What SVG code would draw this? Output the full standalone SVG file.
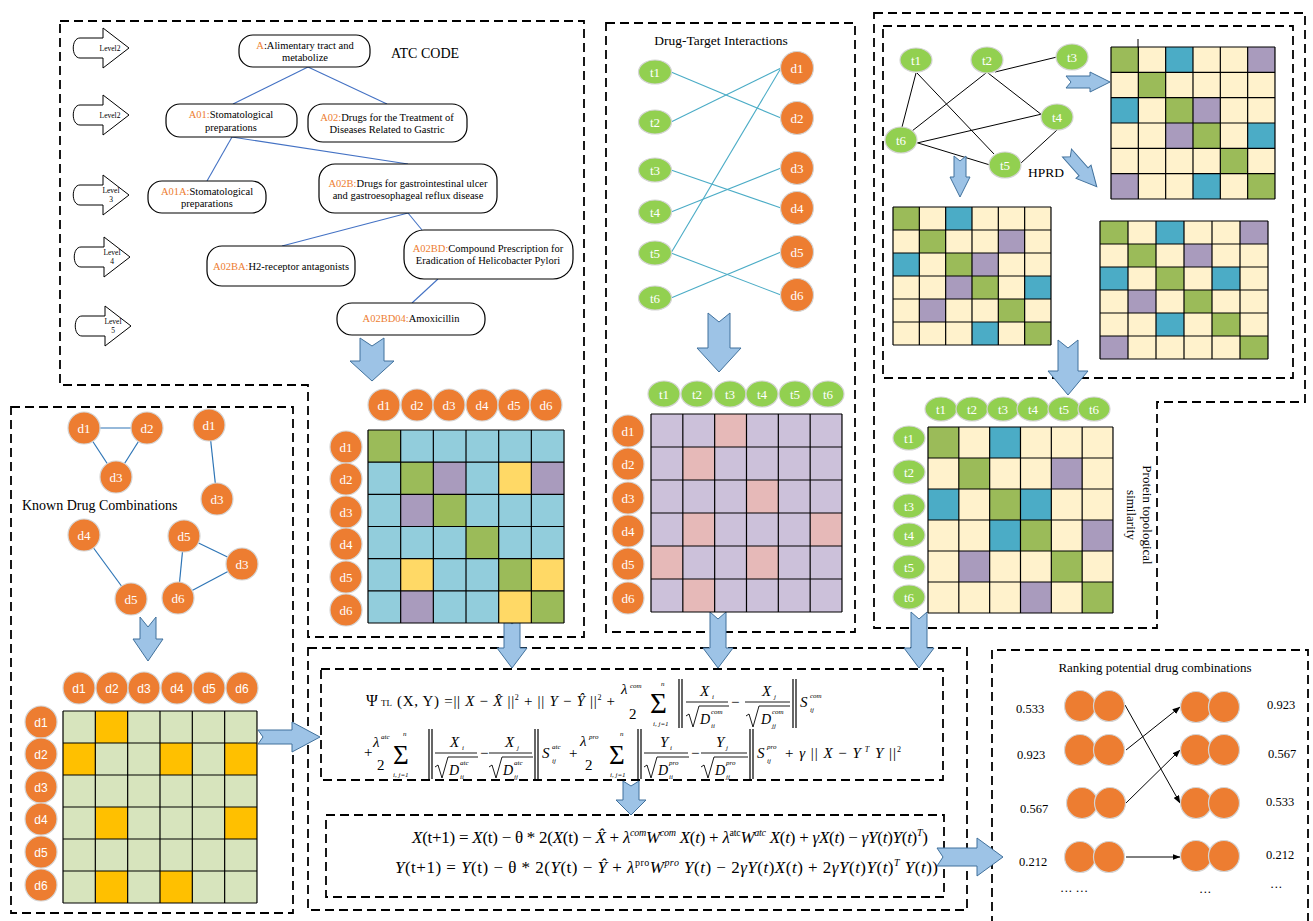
<svg xmlns="http://www.w3.org/2000/svg" xmlns:xlink="http://www.w3.org/1999/xlink" width="1313" height="921" viewBox="0 0 1313 921">
<style>
  .dash{fill:none;stroke:#000;stroke-width:1.8;stroke-dasharray:9 5}
  .oc{fill:#ED7D31;stroke:#D4D4D4;stroke-width:1.2}
  .gc{fill:#92D050;stroke:#D4D4D4;stroke-width:1.2}
  .lbl{font-family:"Liberation Serif",serif;font-size:13px;fill:#fff;text-anchor:middle}
  .lbls{font-family:"Liberation Sans",sans-serif;font-size:12px;fill:#fff;text-anchor:middle}
  .blk{fill:#9DC3E6;stroke:#41719C;stroke-width:1}
  .abox{fill:#fff;stroke:#000;stroke-width:1.2}
  .at{font-family:"Liberation Serif",serif;font-size:10.5px;fill:#000;text-anchor:middle}
  .or{fill:#ED7D31}
  .ttl{font-family:"Liberation Serif",serif;fill:#000}
  .lv{font-family:"Liberation Serif",serif;font-size:7.5px;fill:#000;text-anchor:middle}
  .grid{fill:none;stroke:#000;stroke-width:1.2;vector-effect:non-scaling-stroke}
  .m{font-family:"Liberation Serif",serif;fill:#000}
  .i{font-style:italic}
  .s{font-size:7px;font-style:italic}
  .bar{stroke:#000;stroke-width:0.9;fill:none}
  .nb{stroke:#000;stroke-width:1.2}
  .atl{stroke:#4472C4;stroke-width:1.1}
  .dtl{stroke:#4BACC6;stroke-width:1.1}
  .dcl{stroke:#2E75B6;stroke-width:1.2}
  .hpl{stroke:#000;stroke-width:1}
  .rk{stroke:#000;stroke-width:1;marker-end:url(#ah)}
  .val{font-family:"Liberation Serif",serif;font-size:12.5px;fill:#000}
  .cC{fill:#92CDDC}.cG{fill:#9BBB59}.cP{fill:#A99BBD}.cY{fill:#FFD966}
  .cL{fill:#CCC1DA}.cK{fill:#E6B9B8}.cW{fill:#FFF2CC}.cB{fill:#4BACC6}
  .cLG{fill:#D7E4BD}.cO{fill:#FFC000}
</style>
<defs>
  <path id="grid6" class="grid" d="M0,0H6M0,1H6M0,2H6M0,3H6M0,4H6M0,5H6M0,6H6M0,0V6M1,0V6M2,0V6M3,0V6M4,0V6M5,0V6M6,0V6"/>
  <path id="lvl" d="M103,-10H80C71,-10 71,10 80,10H103V20L129,0L103,-20Z" fill="#fff" stroke="#000" stroke-width="1"/>
  <marker id="ah" markerWidth="8" markerHeight="6" refX="7.5" refY="3" orient="auto" markerUnits="userSpaceOnUse">
    <path d="M0,0L8,3L0,6Z" fill="#000"/>
  </marker>
</defs>
<rect width="1313" height="921" fill="#fff"/>

<!-- dashed section frames -->
<g id="frames">
  <path class="dash" d="M60,21H584V637H308V385H60Z"/>
  <rect class="dash" x="606" y="23" width="249" height="609"/>
  <path class="dash" d="M874,13H1305V402H1157V628H874Z"/>
  <rect class="dash" x="883" y="26" width="410" height="352"/>
  <rect class="dash" x="11" y="407" width="282" height="506"/>
  <rect class="dash" x="308" y="648" width="659" height="262"/>
  <rect class="dash" x="321" y="669" width="622" height="111"/>
  <rect class="dash" x="326" y="815" width="618" height="82"/>
  <path class="dash" d="M992,925V650H1308V925"/>
</g>

<!-- level markers -->
<g id="levels">
  <use xlink:href="#lvl" transform="translate(0,48)"/>
  <text class="lv" x="110" y="51">Level2</text>
  <use xlink:href="#lvl" transform="translate(0,115)"/>
  <text class="lv" x="110" y="118">Level2</text>
  <use xlink:href="#lvl" transform="translate(0,195)"/>
  <text class="lv" x="111" y="193">Level</text><text class="lv" x="111" y="202">3</text>
  <use xlink:href="#lvl" transform="translate(1,257)"/>
  <text class="lv" x="112" y="255">Level</text><text class="lv" x="112" y="264">4</text>
  <use xlink:href="#lvl" transform="translate(2,326)"/>
  <text class="lv" x="113" y="324">Level</text><text class="lv" x="113" y="333">5</text>
</g>

<!-- connectors -->
<g id="connectors">
  <g id="atc-links">
    <line class="atl" x1="308" y1="67" x2="233" y2="104"/>
    <line class="atl" x1="308" y1="67" x2="387" y2="104"/>
    <line class="atl" x1="232" y1="137" x2="207" y2="181"/>
    <line class="atl" x1="232" y1="137" x2="408" y2="164"/>
    <line class="atl" x1="408" y1="213" x2="282" y2="246"/>
    <line class="atl" x1="408" y1="213" x2="422" y2="230"/>
    <line class="atl" x1="438" y1="279" x2="412" y2="303"/>
  </g>
  <g id="dt-links">
    <line class="dtl" x1="671" y1="72" x2="781" y2="118"/>
    <line class="dtl" x1="671" y1="122" x2="781" y2="68"/>
    <line class="dtl" x1="671" y1="253" x2="781" y2="68"/>
    <line class="dtl" x1="671" y1="170" x2="781" y2="208"/>
    <line class="dtl" x1="671" y1="212" x2="781" y2="168"/>
    <line class="dtl" x1="671" y1="253" x2="781" y2="295"/>
    <line class="dtl" x1="671" y1="298" x2="781" y2="252"/>
  </g>
  <g id="ppi-links">
    <line class="hpl" x1="916" y1="73" x2="902" y2="127"/>
    <line class="hpl" x1="917" y1="73" x2="994" y2="154"/>
    <line class="hpl" x1="986" y1="73" x2="912" y2="131"/>
    <line class="hpl" x1="995" y1="72" x2="1057" y2="57"/>
    <line class="hpl" x1="988" y1="73" x2="1042" y2="115"/>
    <line class="hpl" x1="917" y1="143" x2="1042" y2="114"/>
    <line class="hpl" x1="918" y1="143" x2="990" y2="165"/>
    <line class="hpl" x1="1021" y1="163" x2="1057" y2="130"/>
    <line class="hpl" x1="1138" y1="39" x2="1138" y2="48"/>
  </g>
  <g id="combo-links">
    <line class="dcl" x1="84" y1="428" x2="147" y2="428"/>
    <line class="dcl" x1="84" y1="428" x2="116" y2="477"/>
    <line class="dcl" x1="147" y1="428" x2="116" y2="477"/>
    <line class="dcl" x1="209" y1="425" x2="217" y2="499"/>
    <line class="dcl" x1="84" y1="535" x2="131" y2="599"/>
    <line class="dcl" x1="184" y1="536" x2="242" y2="564"/>
    <line class="dcl" x1="184" y1="536" x2="178" y2="598"/>
    <line class="dcl" x1="178" y1="598" x2="242" y2="564"/>
  </g>
  <g id="rank-links">
    <line class="rk" x1="1125" y1="705" x2="1180" y2="803"/>
    <line class="rk" x1="1126" y1="750" x2="1180" y2="707"/>
    <line class="rk" x1="1126" y1="803" x2="1180" y2="750"/>
    <line class="rk" x1="1126" y1="857" x2="1180" y2="857"/>
  </g>
  <g id="flow-arrows">
    <path class="blk" d="M360,338L372,346L384,338V361H394L372,381L350,361H360Z"/>
    <path class="blk" d="M708,313L719,322L730,313V348H741L719,372L697,348H708Z"/>
    <path class="blk" d="M140,617L148,627L156,617V639H163L148,661L133,639H140Z"/>
    <path class="blk" d="M954,156L960,161L966,156V177H970L960,197L950,177H954Z"/>
    <path class="blk" d="M1066,76H1090V72L1110,82L1090,92V88H1066L1071,82Z"/>
    <path class="blk" transform="translate(1067,153) rotate(-41.4)" d="M-6,0L0,5L6,0V25H10L0,45L-10,25H-6Z"/>
    <path class="blk" d="M1058,340L1068,348L1078,340V371H1088L1068,395L1048,371H1058Z"/>
    <path class="blk" d="M504,617L512,624L520,617V648H527L512,668L497,648H504Z"/>
    <path class="blk" d="M710,612L718,619L726,612V648H733L718,668L703,648H710Z"/>
    <path class="blk" d="M911,612L919,619L927,612V648H934L919,668L904,648H911Z"/>
    <path class="blk" d="M258,730H292V722L320,737L292,752V744H258L263,737Z"/>
    <path class="blk" d="M623,781L631,786L639,781V800H646L631,815L616,800H623Z"/>
    <path class="blk" d="M937,848H977V838L1003,857L977,876V866H937L943,857Z"/>
  </g>
</g>

<!-- ATC hierarchy -->
<g id="atc">
  <text x="391" y="58" font-family="Liberation Serif, serif" font-size="14" fill="#000">ATC CODE</text>
  <g id="atc-A"><rect class="abox" x="239" y="35" width="131" height="32" rx="14"/>
    <text class="at" x="305" y="49"><tspan class="or">A</tspan>:Alimentary tract and</text><text class="at" x="305" y="61">metabolize</text></g>
  <g id="atc-A01"><rect class="abox" x="166" y="104" width="131" height="33" rx="14"/>
    <text class="at" x="231" y="118"><tspan class="or">A01:</tspan>Stomatological</text><text class="at" x="231" y="131">preparations</text></g>
  <g id="atc-A02"><rect class="abox" x="308" y="104" width="159" height="38" rx="15"/>
    <text class="at" x="387" y="121"><tspan class="or">A02:</tspan>Drugs for the Treatment of</text><text class="at" x="387" y="133">Diseases Related to Gastric</text></g>
  <g id="atc-A01A"><rect class="abox" x="148" y="181" width="118" height="32" rx="14"/>
    <text class="at" x="207" y="195"><tspan class="or">A01A:</tspan>Stomatological</text><text class="at" x="207" y="207">preparations</text></g>
  <g id="atc-A02B"><rect class="abox" x="319" y="164" width="178" height="49" rx="16"/>
    <text class="at" x="408" y="187"><tspan class="or">A02B:</tspan>Drugs for gastrointestinal ulcer</text><text class="at" x="408" y="199">and gastroesophageal reflux disease</text></g>
  <g id="atc-A02BA"><rect class="abox" x="207" y="246" width="148" height="40" rx="15"/>
    <text class="at" x="281" y="270"><tspan class="or">A02BA:</tspan>H2-receptor antagonists</text></g>
  <g id="atc-A02BD"><rect class="abox" x="404" y="230" width="169" height="49" rx="20"/>
    <text class="at" x="488" y="252"><tspan class="or">A02BD:</tspan>Compound Prescription for</text><text class="at" x="488" y="264">Eradication of Helicobacter Pylori</text></g>
  <g id="atc-A02BD04"><rect class="abox" x="337" y="303" width="148" height="32" rx="15"/>
    <text class="at" x="411" y="322"><tspan class="or">A02BD04:</tspan>Amoxicillin</text></g>
</g>

<!-- ATC similarity matrix -->
<g id="atc-matrix">
  <g transform="translate(368,430) scale(32.67,32.17)">
    <rect width="6" height="6" class="cC"/>
    <rect x="0" y="0" width="1" height="1" class="cG"/><rect x="1" y="1" width="1" height="1" class="cG"/>
    <rect x="2" y="2" width="1" height="1" class="cG"/><rect x="3" y="3" width="1" height="1" class="cG"/>
    <rect x="4" y="4" width="1" height="1" class="cG"/><rect x="5" y="5" width="1" height="1" class="cG"/>
    <rect x="2" y="1" width="1" height="1" class="cP"/><rect x="5" y="1" width="1" height="1" class="cP"/>
    <rect x="1" y="2" width="1" height="1" class="cP"/><rect x="1" y="5" width="1" height="1" class="cP"/>
    <rect x="4" y="1" width="1" height="1" class="cY"/><rect x="1" y="4" width="1" height="1" class="cY"/>
    <rect x="5" y="4" width="1" height="1" class="cY"/><rect x="4" y="5" width="1" height="1" class="cY"/>
    <use xlink:href="#grid6"/>
  </g>
  <circle class="oc" cx="384" cy="405" r="16"/><text class="lbl" x="384" y="409.5">d1</text>
  <circle class="oc" cx="417" cy="405" r="16"/><text class="lbl" x="417" y="409.5">d2</text>
  <circle class="oc" cx="449" cy="405" r="16"/><text class="lbl" x="449" y="409.5">d3</text>
  <circle class="oc" cx="482" cy="405" r="16"/><text class="lbl" x="482" y="409.5">d4</text>
  <circle class="oc" cx="514" cy="405" r="16"/><text class="lbl" x="514" y="409.5">d5</text>
  <circle class="oc" cx="546" cy="405" r="16"/><text class="lbl" x="546" y="409.5">d6</text>
  <circle class="oc" cx="346" cy="447" r="16"/><text class="lbl" x="346" y="451.5">d1</text>
  <circle class="oc" cx="346" cy="479" r="16"/><text class="lbl" x="346" y="483.5">d2</text>
  <circle class="oc" cx="346" cy="512" r="16"/><text class="lbl" x="346" y="516.5">d3</text>
  <circle class="oc" cx="346" cy="544" r="16"/><text class="lbl" x="346" y="548.5">d4</text>
  <circle class="oc" cx="346" cy="577" r="16"/><text class="lbl" x="346" y="581.5">d5</text>
  <circle class="oc" cx="346" cy="610" r="16"/><text class="lbl" x="346" y="614.5">d6</text>
</g>

<!-- drug-target bipartite graph -->
<g id="dt-graph">
  <text class="ttl" x="721" y="45" font-size="13.5" text-anchor="middle">Drug-Target Interactions</text>
  <g id="dt-t1"><ellipse class="gc" cx="655" cy="72" rx="16.5" ry="12"/><text class="lbl" x="655" y="76.5">t1</text></g>
  <g id="dt-t2"><ellipse class="gc" cx="655" cy="122" rx="16.5" ry="12"/><text class="lbl" x="655" y="126.5">t2</text></g>
  <g id="dt-t3"><ellipse class="gc" cx="655" cy="170" rx="16.5" ry="12"/><text class="lbl" x="655" y="174.5">t3</text></g>
  <g id="dt-t4"><ellipse class="gc" cx="655" cy="212" rx="16.5" ry="12"/><text class="lbl" x="655" y="216.5">t4</text></g>
  <g id="dt-t5"><ellipse class="gc" cx="655" cy="253" rx="16.5" ry="12"/><text class="lbl" x="655" y="257.5">t5</text></g>
  <g id="dt-t6"><ellipse class="gc" cx="655" cy="298" rx="16.5" ry="12"/><text class="lbl" x="655" y="302.5">t6</text></g>
  <g id="dt-d1"><circle class="oc" cx="797" cy="68" r="16.5"/><text class="lbl" x="797" y="72.5">d1</text></g>
  <g id="dt-d2"><circle class="oc" cx="797" cy="118" r="16.5"/><text class="lbl" x="797" y="122.5">d2</text></g>
  <g id="dt-d3"><circle class="oc" cx="797" cy="168" r="16.5"/><text class="lbl" x="797" y="172.5">d3</text></g>
  <g id="dt-d4"><circle class="oc" cx="797" cy="208" r="16.5"/><text class="lbl" x="797" y="212.5">d4</text></g>
  <g id="dt-d5"><circle class="oc" cx="797" cy="252" r="16.5"/><text class="lbl" x="797" y="256.5">d5</text></g>
  <g id="dt-d6"><circle class="oc" cx="797" cy="295" r="16.5"/><text class="lbl" x="797" y="299.5">d6</text></g>
</g>

<!-- drug-target matrix -->
<g id="dt-matrix">
  <g transform="translate(651,414) scale(31.83,33)">
    <rect width="6" height="6" class="cL"/>
    <rect x="2" y="0" width="1" height="1" class="cK"/><rect x="1" y="1" width="1" height="1" class="cK"/>
    <rect x="3" y="2" width="1" height="1" class="cK"/><rect x="1" y="3" width="1" height="1" class="cK"/>
    <rect x="5" y="3" width="1" height="1" class="cK"/><rect x="0" y="4" width="1" height="1" class="cK"/>
    <rect x="3" y="4" width="1" height="1" class="cK"/><rect x="1" y="5" width="1" height="1" class="cK"/>
    <use xlink:href="#grid6"/>
  </g>
  <ellipse class="gc" cx="664" cy="394" rx="16" ry="13"/><text class="lbl" x="664" y="398.5">t1</text>
  <ellipse class="gc" cx="697" cy="394" rx="16" ry="13"/><text class="lbl" x="697" y="398.5">t2</text>
  <ellipse class="gc" cx="730" cy="394" rx="16" ry="13"/><text class="lbl" x="730" y="398.5">t3</text>
  <ellipse class="gc" cx="762" cy="394" rx="16" ry="13"/><text class="lbl" x="762" y="398.5">t4</text>
  <ellipse class="gc" cx="795" cy="394" rx="16" ry="13"/><text class="lbl" x="795" y="398.5">t5</text>
  <ellipse class="gc" cx="828" cy="394" rx="16" ry="13"/><text class="lbl" x="828" y="398.5">t6</text>
  <circle class="oc" cx="628" cy="431" r="16"/><text class="lbl" x="628" y="435.5">d1</text>
  <circle class="oc" cx="628" cy="464" r="16"/><text class="lbl" x="628" y="468.5">d2</text>
  <circle class="oc" cx="628" cy="498" r="16"/><text class="lbl" x="628" y="502.5">d3</text>
  <circle class="oc" cx="628" cy="531" r="16"/><text class="lbl" x="628" y="535.5">d4</text>
  <circle class="oc" cx="628" cy="564" r="16"/><text class="lbl" x="628" y="568.5">d5</text>
  <circle class="oc" cx="628" cy="598" r="16"/><text class="lbl" x="628" y="602.5">d6</text>
</g>

<!-- protein interaction network (HPRD) -->
<g id="ppi">
  <g id="ppi-t1"><ellipse class="gc" cx="916" cy="60" rx="16" ry="12"/><text class="lbl" x="916" y="64.5">t1</text></g>
  <g id="ppi-t2"><ellipse class="gc" cx="987" cy="60" rx="16" ry="13"/><text class="lbl" x="987" y="64.5">t2</text></g>
  <g id="ppi-t3"><ellipse class="gc" cx="1072" cy="57" rx="16" ry="13"/><text class="lbl" x="1072" y="61.5">t3</text></g>
  <g id="ppi-t4"><ellipse class="gc" cx="1057" cy="117" rx="16" ry="13"/><text class="lbl" x="1057" y="121.5">t4</text></g>
  <g id="ppi-t5"><ellipse class="gc" cx="1005" cy="165" rx="16" ry="13"/><text class="lbl" x="1005" y="169.5">t5</text></g>
  <g id="ppi-t6"><ellipse class="gc" cx="901" cy="140" rx="16" ry="13"/><text class="lbl" x="901" y="144.5">t6</text></g>
  <text class="ttl" x="1028" y="177" font-size="13.5">HPRD</text>
</g>

<!-- topology matrices -->
<g id="ppi-matrix-a">
  <g transform="translate(1111,47) scale(27.33,25.33)">
    <rect width="6" height="6" class="cW"/>
    <rect x="0" y="0" width="1" height="1" class="cG"/><rect x="2" y="0" width="1" height="1" class="cB"/><rect x="5" y="0" width="1" height="1" class="cP"/>
    <rect x="1" y="1" width="1" height="1" class="cG"/>
    <rect x="0" y="2" width="1" height="1" class="cB"/><rect x="2" y="2" width="1" height="1" class="cG"/><rect x="3" y="2" width="1" height="1" class="cP"/>
    <rect x="2" y="3" width="1" height="1" class="cP"/><rect x="3" y="3" width="1" height="1" class="cG"/><rect x="5" y="3" width="1" height="1" class="cB"/>
    <rect x="4" y="4" width="1" height="1" class="cG"/>
    <rect x="0" y="5" width="1" height="1" class="cP"/><rect x="3" y="5" width="1" height="1" class="cB"/><rect x="5" y="5" width="1" height="1" class="cG"/>
    <use xlink:href="#grid6"/>
  </g>
</g>
<g id="ppi-matrix-b">
  <g transform="translate(893,207) scale(26.33,23)">
    <rect width="6" height="6" class="cW"/>
    <rect x="0" y="0" width="1" height="1" class="cG"/><rect x="2" y="0" width="1" height="1" class="cB"/>
    <rect x="1" y="1" width="1" height="1" class="cG"/><rect x="4" y="1" width="1" height="1" class="cP"/>
    <rect x="0" y="2" width="1" height="1" class="cB"/><rect x="2" y="2" width="1" height="1" class="cG"/><rect x="3" y="2" width="1" height="1" class="cP"/>
    <rect x="2" y="3" width="1" height="1" class="cP"/><rect x="3" y="3" width="1" height="1" class="cG"/><rect x="5" y="3" width="1" height="1" class="cB"/>
    <rect x="1" y="4" width="1" height="1" class="cP"/><rect x="4" y="4" width="1" height="1" class="cG"/>
    <rect x="3" y="5" width="1" height="1" class="cB"/><rect x="5" y="5" width="1" height="1" class="cG"/>
    <use xlink:href="#grid6"/>
  </g>
</g>
<g id="ppi-matrix-c">
  <g transform="translate(1100,221) scale(28,23)">
    <rect width="6" height="6" class="cW"/>
    <rect x="0" y="0" width="1" height="1" class="cG"/><rect x="2" y="0" width="1" height="1" class="cB"/><rect x="5" y="0" width="1" height="1" class="cP"/>
    <rect x="1" y="1" width="1" height="1" class="cG"/><rect x="3" y="1" width="1" height="1" class="cP"/>
    <rect x="0" y="2" width="1" height="1" class="cB"/><rect x="2" y="2" width="1" height="1" class="cG"/><rect x="4" y="2" width="1" height="1" class="cB"/>
    <rect x="1" y="3" width="1" height="1" class="cP"/><rect x="3" y="3" width="1" height="1" class="cG"/>
    <rect x="2" y="4" width="1" height="1" class="cB"/><rect x="4" y="4" width="1" height="1" class="cG"/>
    <rect x="0" y="5" width="1" height="1" class="cP"/><rect x="5" y="5" width="1" height="1" class="cG"/>
    <use xlink:href="#grid6"/>
  </g>
</g>

<!-- protein topological similarity matrix -->
<g id="pts-matrix">
  <g transform="translate(928,427) scale(30.83,31)">
    <rect width="6" height="6" class="cW"/>
    <rect x="0" y="0" width="1" height="1" class="cG"/><rect x="2" y="0" width="1" height="1" class="cB"/>
    <rect x="1" y="1" width="1" height="1" class="cG"/><rect x="4" y="1" width="1" height="1" class="cP"/>
    <rect x="0" y="2" width="1" height="1" class="cB"/><rect x="2" y="2" width="1" height="1" class="cG"/><rect x="3" y="2" width="1" height="1" class="cB"/>
    <rect x="2" y="3" width="1" height="1" class="cB"/><rect x="3" y="3" width="1" height="1" class="cG"/><rect x="5" y="3" width="1" height="1" class="cP"/>
    <rect x="1" y="4" width="1" height="1" class="cP"/><rect x="4" y="4" width="1" height="1" class="cG"/>
    <rect x="3" y="5" width="1" height="1" class="cP"/><rect x="5" y="5" width="1" height="1" class="cG"/>
    <use xlink:href="#grid6"/>
  </g>
  <ellipse class="gc" cx="941" cy="409" rx="16" ry="12"/><text class="lbl" x="941" y="413.5">t1</text>
  <ellipse class="gc" cx="972" cy="409" rx="16" ry="12"/><text class="lbl" x="972" y="413.5">t2</text>
  <ellipse class="gc" cx="1003" cy="409" rx="16" ry="12"/><text class="lbl" x="1003" y="413.5">t3</text>
  <ellipse class="gc" cx="1033" cy="409" rx="16" ry="12"/><text class="lbl" x="1033" y="413.5">t4</text>
  <ellipse class="gc" cx="1064" cy="409" rx="16" ry="12"/><text class="lbl" x="1064" y="413.5">t5</text>
  <ellipse class="gc" cx="1094" cy="409" rx="16" ry="12"/><text class="lbl" x="1094" y="413.5">t6</text>
  <ellipse class="gc" cx="909" cy="438" rx="16" ry="12"/><text class="lbl" x="909" y="442.5">t1</text>
  <ellipse class="gc" cx="909" cy="472" rx="16" ry="12"/><text class="lbl" x="909" y="476.5">t2</text>
  <ellipse class="gc" cx="909" cy="506" rx="16" ry="12"/><text class="lbl" x="909" y="510.5">t3</text>
  <ellipse class="gc" cx="909" cy="535" rx="16" ry="12"/><text class="lbl" x="909" y="539.5">t4</text>
  <ellipse class="gc" cx="909" cy="567" rx="16" ry="12"/><text class="lbl" x="909" y="571.5">t5</text>
  <ellipse class="gc" cx="909" cy="597" rx="16" ry="12"/><text class="lbl" x="909" y="601.5">t6</text>
  <text transform="translate(1143,515) rotate(90)" font-family="Liberation Serif, serif" font-size="13" text-anchor="middle" fill="#000"><tspan x="0" y="0">Protein topological</tspan><tspan x="0" y="16">similarity</tspan></text>
</g>

<!-- known drug combination graphs -->
<g id="combos">
  <text class="ttl" x="22" y="510" font-size="14">Known Drug Combinations</text>
  <g id="kc-d1a"><circle class="oc" cx="84" cy="428" r="16"/><text class="lbl" x="84" y="432.5">d1</text></g>
  <g id="kc-d2"><circle class="oc" cx="147" cy="428" r="16"/><text class="lbl" x="147" y="432.5">d2</text></g>
  <g id="kc-d3a"><circle class="oc" cx="116" cy="477" r="16"/><text class="lbl" x="116" y="481.5">d3</text></g>
  <g id="kc-d1b"><circle class="oc" cx="209" cy="425" r="16"/><text class="lbl" x="209" y="429.5">d1</text></g>
  <g id="kc-d3b"><circle class="oc" cx="217" cy="499" r="16"/><text class="lbl" x="217" y="503.5">d3</text></g>
  <g id="kc-d4"><circle class="oc" cx="84" cy="535" r="16"/><text class="lbl" x="84" y="539.5">d4</text></g>
  <g id="kc-d5a"><circle class="oc" cx="131" cy="599" r="16"/><text class="lbl" x="131" y="603.5">d5</text></g>
  <g id="kc-d5b"><circle class="oc" cx="184" cy="536" r="16"/><text class="lbl" x="184" y="540.5">d5</text></g>
  <g id="kc-d3c"><circle class="oc" cx="242" cy="564" r="16"/><text class="lbl" x="242" y="568.5">d3</text></g>
  <g id="kc-d6"><circle class="oc" cx="178" cy="598" r="16"/><text class="lbl" x="178" y="602.5">d6</text></g>
</g>

<!-- known combination adjacency matrix -->
<g id="combo-matrix">
  <g transform="translate(63,711) scale(32.33,32)">
    <rect width="6" height="6" class="cLG"/>
    <rect x="1" y="0" width="1" height="1" class="cO"/>
    <rect x="0" y="1" width="1" height="1" class="cO"/><rect x="3" y="1" width="1" height="1" class="cO"/><rect x="5" y="1" width="1" height="1" class="cO"/>
    <rect x="1" y="3" width="1" height="1" class="cO"/><rect x="5" y="3" width="1" height="1" class="cO"/>
    <rect x="1" y="5" width="1" height="1" class="cO"/><rect x="3" y="5" width="1" height="1" class="cO"/>
    <use xlink:href="#grid6"/>
  </g>
  <circle class="oc" cx="79" cy="688" r="16"/><text class="lbls" x="79" y="692.5">d1</text>
  <circle class="oc" cx="112" cy="688" r="16"/><text class="lbls" x="112" y="692.5">d2</text>
  <circle class="oc" cx="144" cy="688" r="16"/><text class="lbls" x="144" y="692.5">d3</text>
  <circle class="oc" cx="177" cy="688" r="16"/><text class="lbls" x="177" y="692.5">d4</text>
  <circle class="oc" cx="209" cy="688" r="16"/><text class="lbls" x="209" y="692.5">d5</text>
  <circle class="oc" cx="242" cy="688" r="16"/><text class="lbls" x="242" y="692.5">d6</text>
  <circle class="oc" cx="41" cy="722" r="16"/><text class="lbls" x="41" y="726.5">d1</text>
  <circle class="oc" cx="41" cy="754" r="16"/><text class="lbls" x="41" y="758.5">d2</text>
  <circle class="oc" cx="41" cy="787" r="16"/><text class="lbls" x="41" y="791.5">d3</text>
  <circle class="oc" cx="41" cy="819" r="16"/><text class="lbls" x="41" y="823.5">d4</text>
  <circle class="oc" cx="41" cy="852" r="16"/><text class="lbls" x="41" y="856.5">d5</text>
  <circle class="oc" cx="41" cy="885" r="16"/><text class="lbls" x="41" y="889.5">d6</text>
</g>

<!-- objective function -->
<g id="objective" font-size="15">
  <text class="m" x="366" y="706" font-size="16">Ψ</text>
  <text class="m" x="381" y="706" font-size="9">TL</text>
  <text class="m" x="397" y="706" textLength="218" lengthAdjust="spacing">(X, Y) =|| <tspan class="i">X</tspan> − <tspan class="i">X̂</tspan> ||<tspan dy="-6" font-size="8">2</tspan><tspan dy="6"> + || </tspan><tspan class="i">Y</tspan> − <tspan class="i">Ŷ</tspan> ||<tspan dy="-6" font-size="8">2</tspan><tspan dy="6"> +</tspan></text>
  <text class="m i" x="621" y="694">λ</text><text class="m s" x="630" y="688">com</text>
  <text class="m" x="629" y="719">2</text>
  <text class="m" x="650" y="713" font-size="29">Σ</text>
  <text class="m s" x="661" y="686">n</text><text class="m s" x="653" y="726">i, j=1</text>
  <path class="nb" d="M679,679V728M682,679V728"/>
  <text class="m i" x="700" y="696">X</text><text class="m s" x="712" y="699">i</text>
  <path class="bar" d="M686,702H728M686,716L689,714L693,727L699,706H729"/>
  <text class="m i" x="700" y="724" font-size="14">D</text><text class="m s" x="711" y="714">com</text><text class="m s" x="711" y="728">ii</text>
  <text class="m" x="731" y="707">−</text>
  <text class="m i" x="762" y="696">X</text><text class="m s" x="774" y="699">j</text>
  <path class="bar" d="M745,702H790M746,716L749,714L753,727L759,706H790"/>
  <text class="m i" x="761" y="724" font-size="14">D</text><text class="m s" x="772" y="714">com</text><text class="m s" x="772" y="728">jj</text>
  <path class="nb" d="M793,679V728M796,679V728"/>
  <text class="m i" x="800" y="707">S</text><text class="m s" x="810" y="698">com</text><text class="m s" x="810" y="712">ij</text>

  <text class="m" x="364" y="757">+</text>
  <text class="m i" x="373" y="747">λ</text><text class="m s" x="381" y="739" font-size="6">atc</text>
  <text class="m" x="377" y="770">2</text>
  <text class="m" x="393" y="764" font-size="27">Σ</text>
  <text class="m s" x="403" y="736">n</text><text class="m s" x="393" y="777">i, j=1</text>
  <path class="nb" d="M429,729V779M432,729V779"/>
  <text class="m i" x="450" y="747">X</text><text class="m s" x="462" y="750">i</text>
  <path class="bar" d="M435,753H477M435,767L438,765L442,778L448,757H478"/>
  <text class="m i" x="449" y="775" font-size="14">D</text><text class="m s" x="460" y="765">atc</text><text class="m s" x="460" y="779">ii</text>
  <text class="m" x="480" y="758">−</text>
  <text class="m i" x="505" y="747">X</text><text class="m s" x="517" y="750">j</text>
  <path class="bar" d="M489,753H532M489,767L492,765L496,778L502,757H533"/>
  <text class="m i" x="503" y="775" font-size="14">D</text><text class="m s" x="514" y="765">atc</text><text class="m s" x="514" y="779">jj</text>
  <path class="nb" d="M535,729V779M538,729V779"/>
  <text class="m i" x="542" y="758">S</text><text class="m s" x="552" y="749">atc</text><text class="m s" x="552" y="763">ij</text>
  <text class="m" x="569" y="758">+</text>
  <text class="m i" x="580" y="746">λ</text><text class="m s" x="589" y="739">pro</text>
  <text class="m" x="585" y="770">2</text>
  <text class="m" x="609" y="764" font-size="27">Σ</text>
  <text class="m s" x="620" y="736">n</text><text class="m s" x="610" y="777">i, j=1</text>
  <path class="nb" d="M638,729V779M641,729V779"/>
  <text class="m i" x="660" y="747">Y</text><text class="m s" x="670" y="750">i</text>
  <path class="bar" d="M644,753H688M644,767L647,765L651,778L657,757H689"/>
  <text class="m i" x="658" y="775" font-size="14">D</text><text class="m s" x="669" y="765">pro</text><text class="m s" x="669" y="779">ii</text>
  <text class="m" x="691" y="758">−</text>
  <text class="m i" x="716" y="747">Y</text><text class="m s" x="726" y="750">j</text>
  <path class="bar" d="M701,753H747M701,767L704,765L708,778L714,757H748"/>
  <text class="m i" x="715" y="775" font-size="14">D</text><text class="m s" x="726" y="765">pro</text><text class="m s" x="726" y="779">jj</text>
  <path class="nb" d="M750,729V779M753,729V779"/>
  <text class="m i" x="757" y="758">S</text><text class="m s" x="767" y="749">pro</text><text class="m s" x="767" y="763">ij</text>
  <text class="m" x="785" y="758" textLength="116" lengthAdjust="spacing">+ <tspan class="i">γ</tspan> || <tspan class="i">X</tspan> − <tspan class="i">Y</tspan><tspan dy="-6" font-size="8" class="i"> T</tspan><tspan dy="6" class="i"> Y</tspan> ||<tspan dy="-6" font-size="8">2</tspan></text>
</g>

<!-- update rules -->
<g id="updates" font-size="17">
  <text class="m" x="412" y="843" textLength="516" lengthAdjust="spacing"><tspan class="i">X</tspan>(t+1) = <tspan class="i">X</tspan>(t) − θ * 2(<tspan class="i">X</tspan>(t) − <tspan class="i">X̂</tspan> + <tspan class="i">λ</tspan><tspan dy="-7" font-size="10" class="i">com</tspan><tspan dy="7" class="i">W</tspan><tspan dy="-7" font-size="10" class="i">com</tspan><tspan dy="7" class="i"> X</tspan>(<tspan class="i">t</tspan>) + <tspan class="i">λ</tspan><tspan dy="-7" font-size="10">atc</tspan><tspan dy="7" class="i">W</tspan><tspan dy="-7" font-size="10" class="i">atc</tspan><tspan dy="7" class="i"> X</tspan>(<tspan class="i">t</tspan>) + <tspan class="i">γX</tspan>(<tspan class="i">t</tspan>) − <tspan class="i">γY</tspan>(<tspan class="i">t</tspan>)<tspan class="i">Y</tspan>(<tspan class="i">t</tspan>)<tspan dy="-7" font-size="10" class="i">T</tspan><tspan dy="7">)</tspan></text>
  <text class="m" x="395" y="873" textLength="543" lengthAdjust="spacing"><tspan class="i">Y</tspan>(t+1) = <tspan class="i">Y</tspan>(t) − θ * 2(<tspan class="i">Y</tspan>(t) − <tspan class="i">Ŷ</tspan> + <tspan class="i">λ</tspan><tspan dy="-7" font-size="10">pro</tspan><tspan dy="7" class="i">W</tspan><tspan dy="-7" font-size="10" class="i">pro</tspan><tspan dy="7" class="i"> Y</tspan>(<tspan class="i">t</tspan>) − 2<tspan class="i">γY</tspan>(<tspan class="i">t</tspan>)<tspan class="i">X</tspan>(<tspan class="i">t</tspan>) + 2<tspan class="i">γY</tspan>(<tspan class="i">t</tspan>)<tspan class="i">Y</tspan>(<tspan class="i">t</tspan>)<tspan dy="-7" font-size="10" class="i">T</tspan><tspan dy="7" class="i"> Y</tspan>(<tspan class="i">t</tspan>))</text>
</g>

<!-- ranking -->
<g id="ranking">
  <text class="ttl" x="1155" y="672" font-size="13" text-anchor="middle">Ranking potential drug combinations</text>
  <g id="rk-l1"><circle class="oc" cx="1080" cy="706" r="15.5"/><circle class="oc" cx="1109" cy="706" r="15.5"/></g>
  <g id="rk-l2"><circle class="oc" cx="1080" cy="750" r="15.5"/><circle class="oc" cx="1109" cy="750" r="15.5"/></g>
  <g id="rk-l3"><circle class="oc" cx="1082" cy="803" r="15.5"/><circle class="oc" cx="1110" cy="803" r="15.5"/></g>
  <g id="rk-l4"><circle class="oc" cx="1080" cy="857" r="15.5"/><circle class="oc" cx="1109" cy="857" r="15.5"/></g>
  <g id="rk-r1"><circle class="oc" cx="1196" cy="707" r="15.5"/><circle class="oc" cx="1224" cy="707" r="15.5"/></g>
  <g id="rk-r2"><circle class="oc" cx="1196" cy="750" r="15.5"/><circle class="oc" cx="1224" cy="750" r="15.5"/></g>
  <g id="rk-r3"><circle class="oc" cx="1196" cy="803" r="15.5"/><circle class="oc" cx="1224" cy="803" r="15.5"/></g>
  <g id="rk-r4"><circle class="oc" cx="1196" cy="856" r="15.5"/><circle class="oc" cx="1224" cy="856" r="15.5"/></g>
  <text class="val" x="1016" y="713">0.533</text>
  <text class="val" x="1017" y="759">0.923</text>
  <text class="val" x="1020" y="813">0.567</text>
  <text class="val" x="1019" y="866">0.212</text>
  <text class="val" x="1267" y="709">0.923</text>
  <text class="val" x="1268" y="758">0.567</text>
  <text class="val" x="1266" y="806">0.533</text>
  <text class="val" x="1266" y="859">0.212</text>
  <text class="val" x="1060" y="895">··· ···</text>
  <text class="val" x="1199" y="896">···</text>
  <text class="val" x="1270" y="891">···</text>
</g>
</svg>
